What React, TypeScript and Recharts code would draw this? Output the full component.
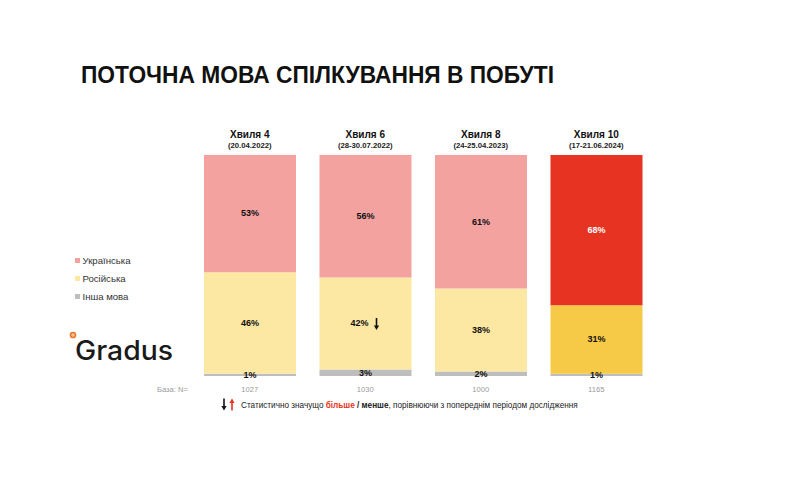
import React from "react";
import { BarChart, Bar, XAxis, YAxis, LabelList, Cell } from "recharts";

const waves = ["Хвиля 4", "Хвиля 6", "Хвиля 8", "Хвиля 10"];
const dates = ["(20.04.2022)", "(28-30.07.2022)", "(24-25.04.2023)", "(17-21.06.2024)"];
const ukrainian = [53, 56, 61, 68];
const russian = [46, 42, 38, 31];
const other = [1, 3, 2, 1];
const baseN = [1027, 1030, 1000, 1165];
const russianChange = ["", "down", "", ""];
const seriesNames = ["Українська", "Російська", "Інша мова"];

const data = waves.map((w, i) => ({
  wave: w,
  date: dates[i],
  ua: ukrainian[i],
  ru: russian[i],
  other: other[i],
  n: baseN[i],
  change: russianChange[i],
}));

const FONT = "'Liberation Sans', Arial, sans-serif";
const PINK = "#F3A2A0";
const LYELLOW = "#FCE7A3";
const GREY = "#BEBEBE";
const RED = "#E63322";
const YELLOW = "#F6C946";
const HIGHLIGHT = waves.length - 1;
const legendColors = [PINK, LYELLOW, GREY];

const TopTick = (props: any) => {
  const { x, payload } = props;
  const i = payload.index;
  return (
    <g>
      <text x={x} y={137.5} textAnchor="middle" fontSize={10} fontWeight="bold" fill="#111" fontFamily={FONT}>
        {waves[i]}
      </text>
      <text x={x} y={148} textAnchor="middle" fontSize={7.7} fontWeight="bold" fill="#222" fontFamily={FONT}>
        {dates[i]}
      </text>
    </g>
  );
};

const BottomTick = (props: any) => {
  const { x, payload } = props;
  const i = payload.index;
  return (
    <text x={x} y={392} textAnchor="middle" fontSize={7.6} fill="#9a9a9a" fontFamily={FONT}>
      {baseN[i]}
    </text>
  );
};

const DownArrow = ({ x, y, color }: { x: number; y: number; color: string }) => (
  <g>
    <line x1={x} y1={y - 6} x2={x} y2={y + 2} stroke={color} strokeWidth={1.6} />
    <path d={`M${x - 2.6},${y + 1.5} L${x + 2.6},${y + 1.5} L${x},${y + 6} Z`} fill={color} />
  </g>
);
const UpArrow = ({ x, y, color }: { x: number; y: number; color: string }) => (
  <g>
    <line x1={x} y1={y + 6} x2={x} y2={y - 2} stroke={color} strokeWidth={1.6} />
    <path d={`M${x - 2.6},${y - 1.5} L${x + 2.6},${y - 1.5} L${x},${y - 6} Z`} fill={color} />
  </g>
);

const makeLabel = (key: "ua" | "ru" | "other") => (props: any) => {
  const { x, y, width, height, value, index } = props;
  const cx = x + width / 2;
  const cy = y + height / 2 + 0.5;
  const white = key === "ua" && index === HIGHLIGHT;
  const change = key === "ru" ? russianChange[index] : "";
  if (change) {
    return (
      <g>
        <text x={cx + 3} y={cy} textAnchor="end" dominantBaseline="middle" fontSize={9} fontWeight="bold" fill="#111" fontFamily={FONT}>
          {`${value}%`}
        </text>
        {change === "down" ? <DownArrow x={cx + 11} y={cy} color="#111" /> : <UpArrow x={cx + 11} y={cy} color="#E63322" />}
      </g>
    );
  }
  return (
    <text x={cx} y={cy} textAnchor="middle" dominantBaseline="middle" fontSize={9} fontWeight="bold" fill={white ? "#fff" : "#111"} fontFamily={FONT}>
      {`${value}%`}
    </text>
  );
};

export default function App() {
  return (
    <div style={{ position: "absolute", left: 0, top: 0, width: 785, height: 487, background: "#fff", fontFamily: FONT }}>
      <BarChart
        width={785}
        height={487}
        data={data}
        stackOffset="expand"
        barSize={92}
        margin={{ top: 125, right: 131, bottom: 91, left: 192 }}
      >
        <XAxis xAxisId="top" orientation="top" dataKey="wave" height={30} axisLine={false} tickLine={false} tick={<TopTick />} interval={0} />
        <XAxis xAxisId="bottom" orientation="bottom" dataKey="wave" height={20} axisLine={false} tickLine={false} tick={<BottomTick />} interval={0} />
        <YAxis hide domain={[0, 1]} />
        <Bar dataKey="other" name={seriesNames[2]} stackId="a" xAxisId="top" fill={GREY} isAnimationActive={false}>
          {data.map((_, i) => (
            <Cell key={i} fill={GREY} />
          ))}
          <LabelList dataKey="other" content={makeLabel("other")} />
        </Bar>
        <Bar dataKey="ru" name={seriesNames[1]} stackId="a" xAxisId="top" fill={LYELLOW} isAnimationActive={false}>
          {data.map((_, i) => (
            <Cell key={i} fill={i === HIGHLIGHT ? YELLOW : LYELLOW} />
          ))}
          <LabelList dataKey="ru" content={makeLabel("ru")} />
        </Bar>
        <Bar dataKey="ua" name={seriesNames[0]} stackId="a" xAxisId="top" fill={PINK} isAnimationActive={false}>
          {data.map((_, i) => (
            <Cell key={i} fill={i === HIGHLIGHT ? RED : PINK} />
          ))}
          <LabelList dataKey="ua" content={makeLabel("ua")} />
        </Bar>
      </BarChart>
      <div style={{ position: "absolute", left: 75, top: 251.5, fontFamily: FONT }}>
        {seriesNames.map((name, i) => (
          <div key={i} style={{ display: "flex", alignItems: "center", height: 18.2, fontSize: 9.6, color: "#333" }}>
            <span style={{ display: "inline-block", width: 5, height: 5, background: legendColors[i], marginRight: 2.5 }} />
            <span>{name}</span>
          </div>
        ))}
      </div>
      <svg width={785} height={487} style={{ position: "absolute", left: 0, top: 0, pointerEvents: "none" }}>
        <text x={81} y={83} fontSize={24} fontWeight="bold" fill="#111" fontFamily={FONT} textLength={473} lengthAdjust="spacingAndGlyphs">
          ПОТОЧНА МОВА СПІЛКУВАННЯ В ПОБУТІ
        </text>
        <circle cx={73} cy={335} r={2.6} fill="#F7C08C" stroke="#E8762A" strokeWidth={1.5} />
        <text x={75} y={360} fontSize={27} fontWeight={500} fill="#1a1a1a" fontFamily="Inter, 'Liberation Sans', sans-serif" textLength={98} lengthAdjust="spacingAndGlyphs">
          Gradus
        </text>
        <text x={157} y={392} fontSize={7.6} fill="#9a9a9a" fontFamily={FONT}>
          База: N=
        </text>
        <DownArrow x={224} y={404.5} color="#111" />
        <UpArrow x={232} y={404.5} color="#E63322" />
        <text x={241} y={407.5} fontSize={8.2} fill="#222" fontFamily={FONT}>
          <tspan>Статистично значущо </tspan>
          <tspan fill="#E63322" fontWeight="bold">більше</tspan>
          <tspan fontWeight="bold"> / менше</tspan>
          <tspan>, порівнюючи з попереднім періодом дослідження</tspan>
        </text>
      </svg>
    </div>
  );
}
